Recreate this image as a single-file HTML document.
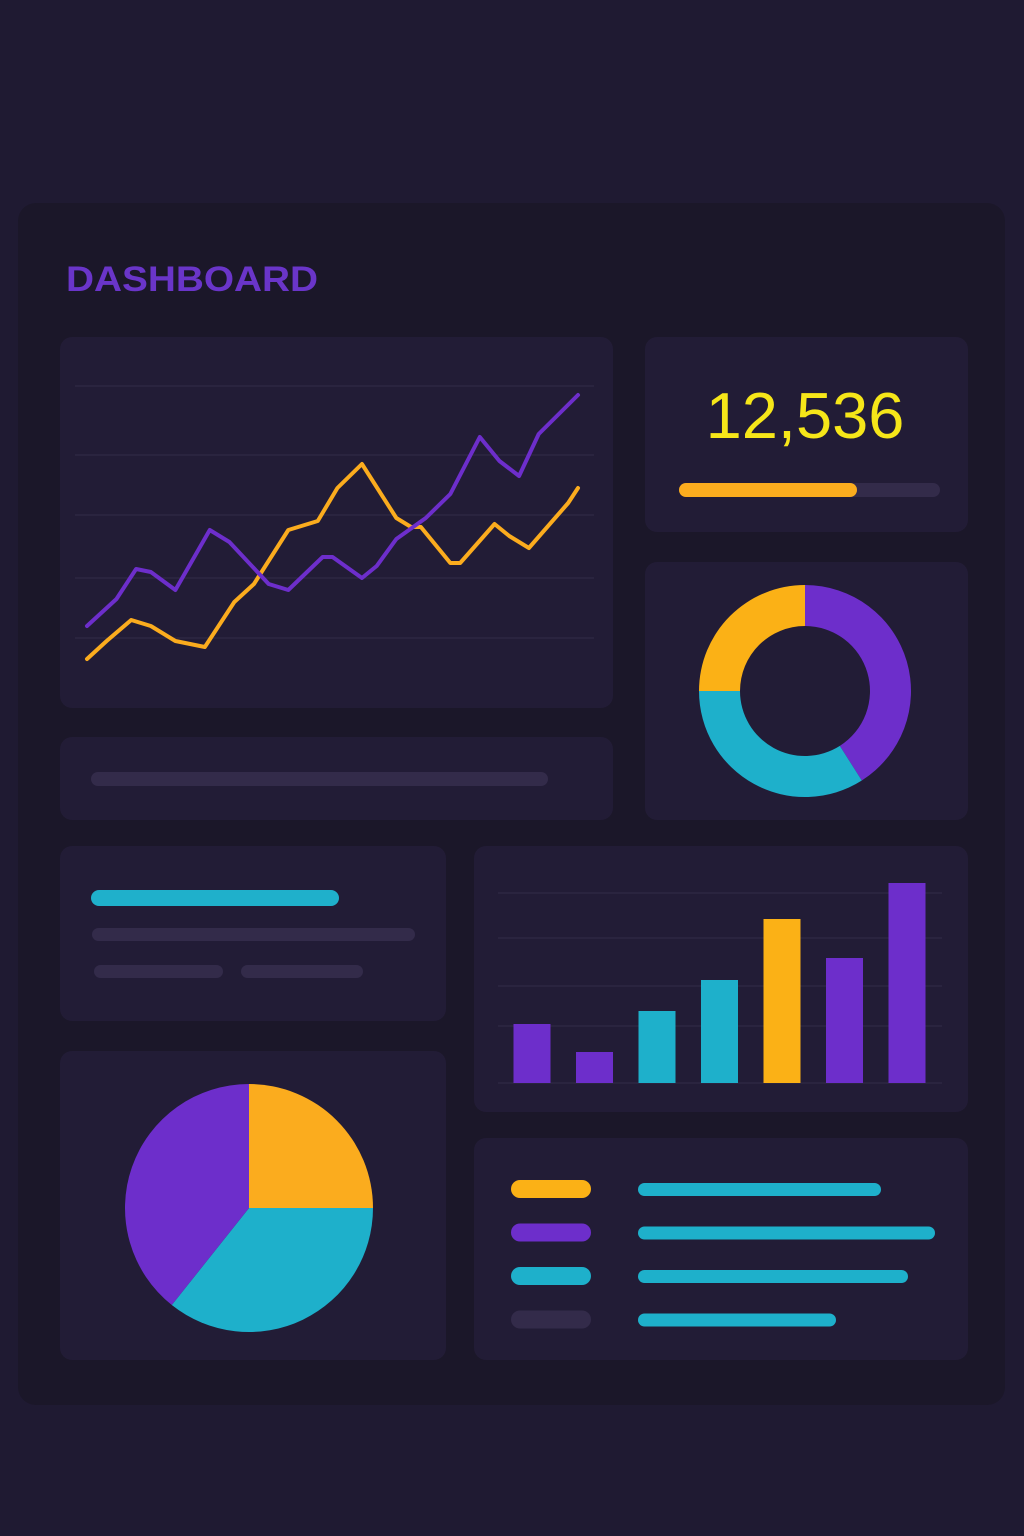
<!DOCTYPE html>
<html><head><meta charset="utf-8"><style>
html,body{margin:0;padding:0;background:#1f1a32;}
svg{display:block;font-family:"Liberation Sans",sans-serif;}
</style></head><body>
<svg id="root" width="1024" height="1536" viewBox="0 0 1024 1536" xmlns="http://www.w3.org/2000/svg">
<rect x="0" y="0" width="1024" height="1536" fill="#1f1a32"/>
<rect x="18" y="203" width="987" height="1202" rx="18" fill="#1b1729"/>
<text x="66" y="291" font-size="35" font-weight="bold" fill="#6a35c9" textLength="252" lengthAdjust="spacingAndGlyphs">DASHBOARD</text>

<rect x="60" y="337" width="553" height="371" rx="12" fill="#221c36"/>
<g id="line-grid"></g>
<g id="line-series"></g>

<rect x="645" y="337" width="323" height="195" rx="12" fill="#221c36"/>
<text x="805" y="438" font-size="65" fill="#f6e619" text-anchor="middle">12,536</text>
<rect x="679" y="483" width="261" height="14" rx="7" fill="#332b4a"/>
<rect x="679" y="483" width="178" height="14" rx="7" fill="#fbac1e"/>

<rect x="645" y="562" width="323" height="258" rx="12" fill="#221c36"/>
<g id="donut"></g>

<rect x="60" y="737" width="553" height="83" rx="12" fill="#221c36"/>
<rect x="91" y="772" width="457" height="14" rx="7" fill="#332b4a"/>

<rect x="60" y="846" width="386" height="175" rx="12" fill="#221c36"/>
<rect x="91" y="890" width="248" height="16" rx="8" fill="#1fb0cb"/>
<rect x="92" y="928" width="323" height="13" rx="6.5" fill="#332b4a"/>
<rect x="94" y="965" width="129" height="13" rx="6.5" fill="#332b4a"/>
<rect x="241" y="965" width="122" height="13" rx="6.5" fill="#332b4a"/>

<rect x="474" y="846" width="494" height="266" rx="12" fill="#221c36"/>
<g id="bar-grid"></g>
<g id="bars"></g>

<rect x="60" y="1051" width="386" height="309" rx="12" fill="#221c36"/>
<g id="pie"></g>

<rect x="474" y="1138" width="494" height="222" rx="12" fill="#221c36"/>
<g id="legend"></g>
</svg>
<script>
// Line chart data (t: 0-100, value: 0-100)
const purpleT = [0,6,10,13,18,25,29,37,41,48,50,56,59,63,69,74,80,84,88,92,100];
const purpleV = [18,27,37,36,30,50,46,32,30,41,41,34,38,47,54,62,81,73,68,82,95];
const orangeT = [0,4,9,13,18,21,24,30,34,41,47,51,56,63,66,68,74,76,83,86,90,98,100];
const orangeV = [7,13,20,18,13,12,11,26,32,50,53,64,72,54,51,51,39,39,52,48,44,59,64];
const lineGridTicks = [14,34,55,75,98];
// Bar chart data
const barCategories = ['a','b','c','d','e','f','g'];
const barValues = [59,31,72,103,164,125,200];
const barColors = ['#6d2ecb','#6d2ecb','#1eb0cb','#1eb0cb','#fbb116','#6d2ecb','#6d2ecb'];
const barGridTicks = [0,57,97,145,190];
// Donut data
const donutValues = [41,34,25];
const donutColors = ['#6d2ecb','#1eb0cb','#fbb116'];
// Pie data
const pieValues = [25,35.7,39.3];
const pieColors = ['#fbac1e','#1eb0cb','#6d2ecb'];
// Legend data
const legendColors = ['#fbb116','#6d2ecb','#1eb0cb','#332b4a'];
const legendLengths = [243,297,270,198];

const NS='http://www.w3.org/2000/svg';
function mk(tag,attrs,parent){const e=document.createElementNS(NS,tag);for(const k in attrs)e.setAttribute(k,attrs[k]);parent.appendChild(e);return e;}

// line chart
const lx=t=>87+t*4.91, ly=v=>680-v*3;
const lg=document.getElementById('line-grid');
lineGridTicks.forEach(v=>{
  const l=mk('line',{x1:75,x2:594,y1:ly(v),y2:ly(v),stroke:'#332c48','stroke-width':1},lg);
  
  
});
const ls=document.getElementById('line-series');
function series(T,V,color,name){
  const d=T.map((t,i)=>(i?'L':'M')+lx(t)+' '+ly(V[i])).join(' ');
  const p=mk('path',{d:d,fill:'none',stroke:color,'stroke-width':4,'stroke-linejoin':'round','stroke-linecap':'round'},ls);
  
  
}
series(orangeT,orangeV,'#fbac1e','orange-line');
series(purpleT,purpleV,'#6d2ecb','purple-line');

// bar chart
const bBase=1083, bx=i=>532+i*62.5, by=v=>bBase-v;
const bg=document.getElementById('bar-grid');
barGridTicks.forEach(v=>{
  const l=mk('line',{x1:498,x2:942,y1:by(v),y2:by(v),stroke:'#332c48','stroke-width':1},bg);
  
  
});
const bs=document.getElementById('bars');
barCategories.forEach((c,i)=>{
  const r=mk('rect',{x:bx(i)-18.5,y:by(barValues[i]),width:37,height:barValues[i],fill:barColors[i]},bs);
  
  
});

// arcs
function arcPath(cx,cy,r0,r1,a0,a1){
  const p=(r,a)=>[cx+r*Math.sin(a),cy-r*Math.cos(a)];
  const large=(a1-a0)>Math.PI?1:0;
  const [x1,y1]=p(r1,a0),[x2,y2]=p(r1,a1);
  if(r0===0) return `M${cx} ${cy} L${x1} ${y1} A${r1} ${r1} 0 ${large} 1 ${x2} ${y2} Z`;
  const [x3,y3]=p(r0,a1),[x4,y4]=p(r0,a0);
  return `M${x1} ${y1} A${r1} ${r1} 0 ${large} 1 ${x2} ${y2} L${x3} ${y3} A${r0} ${r0} 0 ${large} 0 ${x4} ${y4} Z`;
}
function ring(id,vals,cols,cx,cy,r0,r1,name){
  const g=document.getElementById(id);const tot=vals.reduce((a,b)=>a+b,0);let a=0;
  vals.forEach((v,i)=>{const a1=a+v/tot*2*Math.PI;
    const p=mk('path',{d:arcPath(cx,cy,r0,r1,a,a1),fill:cols[i]},g);
    
    
    a=a1;});
}
ring('donut',donutValues,donutColors,805,691,65,106,'donut');
ring('pie',pieValues,pieColors,249,1208,0,124,'pie');

// legend
const lgd=document.getElementById('legend');
legendColors.forEach((c,i)=>{
  const y=1189+i*43.5;
  const s=mk('rect',{x:511,y:y-9,width:80,height:18,rx:9,fill:c},lgd);
  
  
  const l=mk('rect',{x:638,y:y-6,width:legendLengths[i],height:13,rx:6.5,fill:'#1eb0cb'},lgd);
  
  
});
</script>
</body></html>
